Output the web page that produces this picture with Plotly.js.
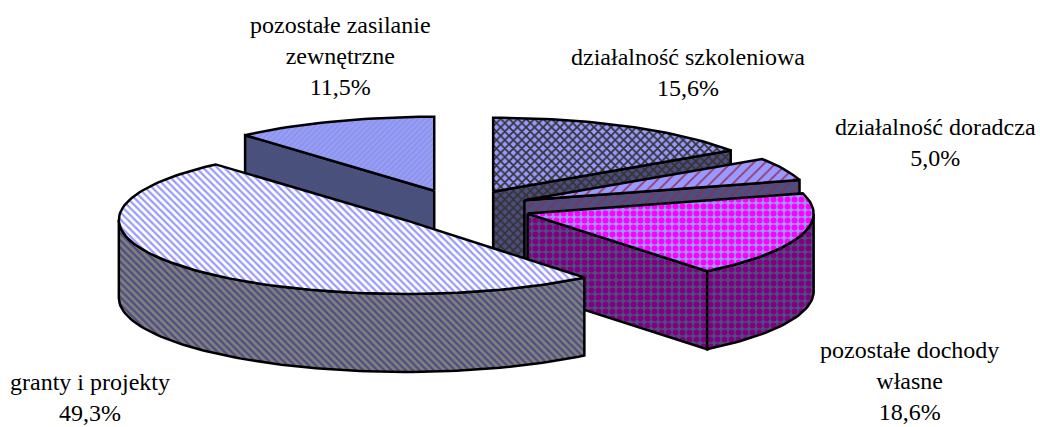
<!DOCTYPE html>
<html><head><meta charset="utf-8">
<script src="https://cdn.plot.ly/plotly-3.0.1.min.js"></script>
<style>html,body{margin:0;padding:0;background:#fff}</style></head>
<body><div id="chart" style="width:1040px;height:427px"></div>
<script>
// Data, clockwise from 12 o'clock
const categories = ['działalność szkoleniowa','działalność doradcza','pozostałe dochody<br>własne','granty i projekty','pozostałe zasilanie<br>zewnętrzne'];
const values = [15.6, 5.0, 18.6, 49.3, 11.5];
const percentLabels = ['15,6%','5,0%','18,6%','49,3%','11,5%'];

// 3-D projection
const CX = 459.5, CY = 208, RX = 286, RY = 74, DEPTH = 78, EXPLODE = 0.25;
const topStyles = [
  {shape:'x', fgcolor:'#333333', bgcolor:'#9999FF', size:6, solidity:0.5},
  {shape:'/', fgcolor:'#993366', bgcolor:'#9999FF', size:8, solidity:0.2},
  {shape:'.', fgcolor:'#FF00FF', bgcolor:'#9999FF', size:7, solidity:0.55},
  {shape:'\\', fgcolor:'#9999FF', bgcolor:'#FFFFFF', size:5, solidity:0.45},
  {shape:'/', fgcolor:'#669999', bgcolor:'#9999FF', size:4, solidity:0.2}
];
const wallStyles = [
  {shape:'x', fgcolor:'#333333', bgcolor:'#4D4D80', size:6, solidity:0.5},
  {shape:'/', fgcolor:'#803355', bgcolor:'#4D4D80', size:8, solidity:0.2},
  {shape:'.', fgcolor:'#800080', bgcolor:'#4D4D80', size:7, solidity:0.55},
  {shape:'\\', fgcolor:'#4D4D80', bgcolor:'#808080', size:5, solidity:0.45},
  {shape:'/', fgcolor:'#336666', bgcolor:'#4D4D80', size:4, solidity:0.2}
];
const labelPos = [[688,72],[935,142],[909,381],[90,397],[340,56]];
const drawOrder = [4,0,1,2,3];

const rad = d => d*Math.PI/180;
const total = values.reduce((a,b)=>a+b,0);
let acc = 0;
const slices = values.map(v => { const s = acc/total*360; acc += v; return {s, e: acc/total*360}; });

function rim(sl, t){ return [sl.ax + RX*Math.sin(rad(t)), sl.ay - RY*Math.cos(rad(t))]; }
slices.forEach(sl => {
  const m = rad((sl.s+sl.e)/2);
  sl.ax = CX + EXPLODE*RX*Math.sin(m);
  sl.ay = CY - EXPLODE*RY*Math.cos(m);
});
function arc(sl, a, b){ const n = Math.max(2, Math.ceil((b-a)/1.5)), out=[]; for(let i=0;i<=n;i++) out.push(rim(sl, a+(b-a)*i/n)); return out; }
function poly(pts, style){
  const x = pts.map(p=>p[0]).concat([pts[0][0]]), y = pts.map(p=>p[1]).concat([pts[0][1]]);
  return {type:'scatter', mode:'lines', x, y, fill:'toself', fillcolor:style.bgcolor,
    fillpattern:style, line:{color:'#000', width:2.5}, hoverinfo:'skip', showlegend:false};
}
const traces = [];
drawOrder.forEach(i => {
  const sl = slices[i], w = wallStyles[i], apex = [sl.ax, sl.ay];
  const down = p => [p[0], p[1]+DEPTH];
  [[sl.e, Math.sin(rad(sl.e)) > 1e-6],[sl.s, Math.sin(rad(sl.s)) < -1e-6]].forEach(([ang,vis]) => {
    if(!vis) return;
    const r = rim(sl, ang);
    traces.push(poly([apex, r, down(r), down(apex)], w));
  });
  const a = Math.max(sl.s, 90), b = Math.min(sl.e, 270);
  if(b > a){ const top = arc(sl,a,b); traces.push(poly(top.concat(top.slice().reverse().map(down)), w)); }
  traces.push(poly([apex].concat(arc(sl, sl.s, sl.e)), topStyles[i]));
});
const annotations = categories.map((c,i)=>({x:labelPos[i][0], y:labelPos[i][1], xref:'x', yref:'y',
  text:c+'<br>'+percentLabels[i], showarrow:false, align:'center', xanchor:'center', yanchor:'middle',
  font:{family:'"Liberation Serif", serif', size:24, color:'#000'}}));
Plotly.newPlot('chart', traces, {
  width:1040, height:427, margin:{l:0,r:0,t:0,b:0}, paper_bgcolor:'#fff', plot_bgcolor:'#fff', showlegend:false,
  xaxis:{range:[0,1040], visible:false, fixedrange:true},
  yaxis:{range:[427,0], visible:false, fixedrange:true},
  annotations
}, {staticPlot:true, displayModeBar:false});
</script></body></html>
